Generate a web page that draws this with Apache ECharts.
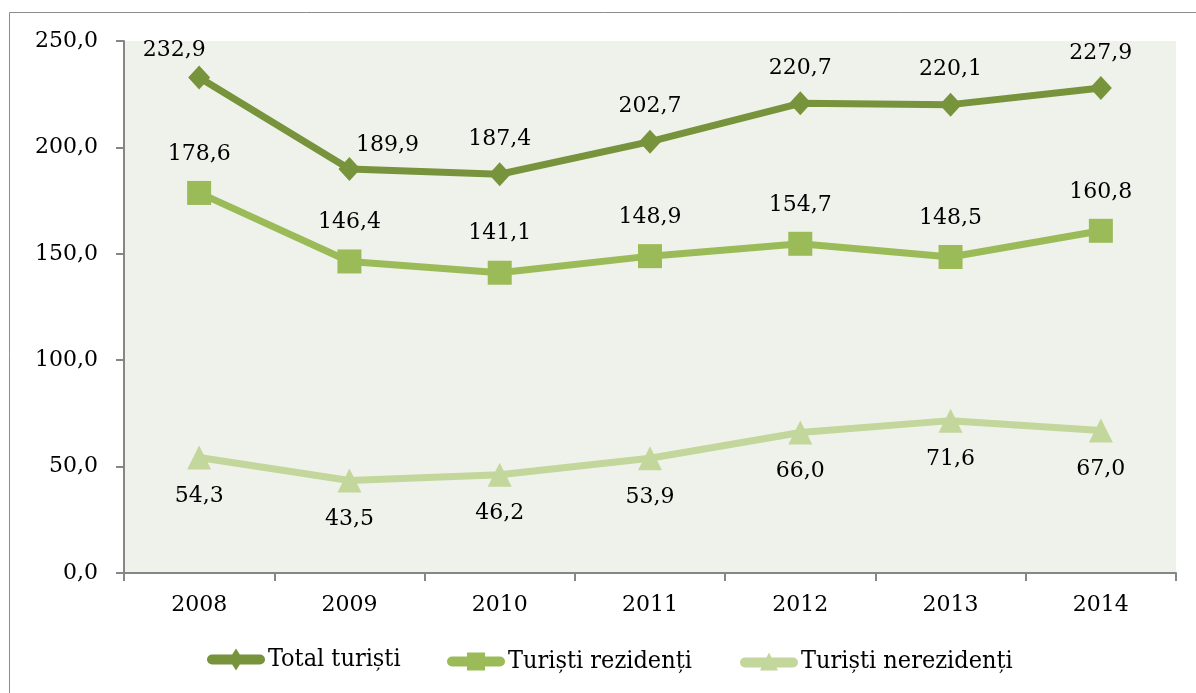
<!DOCTYPE html>
<html>
<head>
<meta charset="utf-8">
<script src="https://cdn.jsdelivr.net/npm/echarts@6/dist/echarts.min.js"></script>
<style>
  html, body { margin: 0; padding: 0; background: #fff; }
  #chart { width: 1196px; height: 693px; }
</style>
</head>
<body>
<div id="chart"></div>
<script>
// ani si valori (mii turisti)
var years = ['2008', '2009', '2010', '2011', '2012', '2013', '2014'];
var totalTuristi = [232.9, 189.9, 187.4, 202.7, 220.7, 220.1, 227.9];
var turistiRezidenti = [178.6, 146.4, 141.1, 148.9, 154.7, 148.5, 160.8];
var turistiNerezidenti = [54.3, 43.5, 46.2, 53.9, 66.0, 71.6, 67.0];
var yTicks = [0, 50, 100, 150, 200, 250];

var seriesNames = ['Total turiști', 'Turiști rezidenți', 'Turiști nerezidenți'];
var culori = ['#77933C', '#9BBB59', '#C3D69B'];
var fontNum = 'DejaVu Serif';

function virgula(v) {
	return Number(v).toFixed(1).replace('.', ',');
}

var myChart = echarts.init(document.getElementById('chart'));

// etichete mutate manual ca in original
var totalData = totalTuristi.map(function (v, i) {
	var o = { value: v };
	if (i == 0) o.label = { offset: [-25, 8] };
	if (i == 1) o.label = { offset: [38, 11] };
	return o;
});

var labelText = {
	show: true,
	color: '#000',
	fontFamily: fontNum,
	fontSize: 22,
	formatter: function (p) { return virgula(p.value); }
};

// iconite legenda: bara rotunjita + marker (ca in Excel)
var iconRomb = 'path://M5,6L53,6A5,5 0 0 1 53,16L5,16A5,5 0 0 1 5,6Z M29,0L36,11L29,22L22,11Z';
var iconPatrat = 'path://M5,4L53,4A5,5 0 0 1 53,14L5,14A5,5 0 0 1 5,4Z M20,0L38,0L38,18L20,18Z';
var iconTriunghi = 'path://M5,5L53,5A5,5 0 0 1 53,15L5,15A5,5 0 0 1 5,5Z M29,0L38,18L20,18Z';

function legenda(name, left, icon, h) {
	return {
		data: [{ name: name, icon: icon }],
		left: left,
		top: 658 - h / 2 - 5,
		itemWidth: 58,
		itemHeight: h,
		textStyle: { color: '#000', fontFamily: 'DejaVu Serif Condensed', fontSize: 25, padding: [0, 0, 0, -2] },
		selectedMode: false
	};
}

var option = {
	animation: false,
	color: culori,
	graphic: [{
		type: 'rect',
		shape: { x: 9.5, y: 12.5, width: 1300, height: 900 },
		style: { fill: 'none', stroke: '#8c8c8c', lineWidth: 1 },
		silent: true
	}],
	legend: [
		legenda(seriesNames[0], 202, iconRomb, 22),
		legenda(seriesNames[1], 442, iconPatrat, 18),
		legenda(seriesNames[2], 735, iconTriunghi, 18)
	],
	grid: {
		left: 124,
		right: 20,
		top: 41,
		bottom: 120,
		show: true,
		backgroundColor: '#EFF2EA',
		borderWidth: 0
	},
	xAxis: {
		type: 'category',
		data: years,
		boundaryGap: true,
		axisLine: { lineStyle: { color: '#868686', width: 2 } },
		axisTick: { show: true, length: 8, lineStyle: { color: '#868686', width: 2 } },
		axisLabel: { color: '#000', fontFamily: fontNum, fontSize: 22, margin: 21 }
	},
	yAxis: {
		type: 'value',
		min: yTicks[0],
		max: yTicks[yTicks.length - 1],
		interval: 50,
		splitLine: { show: false },
		axisLine: { show: true, lineStyle: { color: '#868686', width: 2 } },
		axisTick: { show: true, length: 8, lineStyle: { color: '#868686', width: 2 } },
		axisLabel: {
			color: '#000', fontFamily: fontNum, fontSize: 22, margin: 26,
			formatter: function (v) { return virgula(v); }
		}
	},
	series: [
		{
			name: seriesNames[0],
			type: 'line',
			data: totalData,
			symbol: 'diamond',
			symbolSize: [22, 24],
			lineStyle: { width: 7, color: culori[0] },
			itemStyle: { color: culori[0] },
			label: Object.assign({ position: 'top', distance: 12 }, labelText),
			z: 4
		},
		{
			name: seriesNames[1],
			type: 'line',
			data: turistiRezidenti,
			symbol: 'rect',
			symbolSize: 24,
			lineStyle: { width: 7, color: culori[1] },
			itemStyle: { color: culori[1] },
			label: Object.assign({ position: 'top', distance: 16 }, labelText),
			z: 3
		},
		{
			name: seriesNames[2],
			type: 'line',
			data: turistiNerezidenti,
			symbol: 'triangle',
			symbolSize: 24,
			lineStyle: { width: 7, color: culori[2] },
			itemStyle: { color: culori[2] },
			label: Object.assign({ position: 'bottom', distance: 16 }, labelText),
			z: 2
		}
	]
};
myChart.setOption(option);
</script>
</body>
</html>
